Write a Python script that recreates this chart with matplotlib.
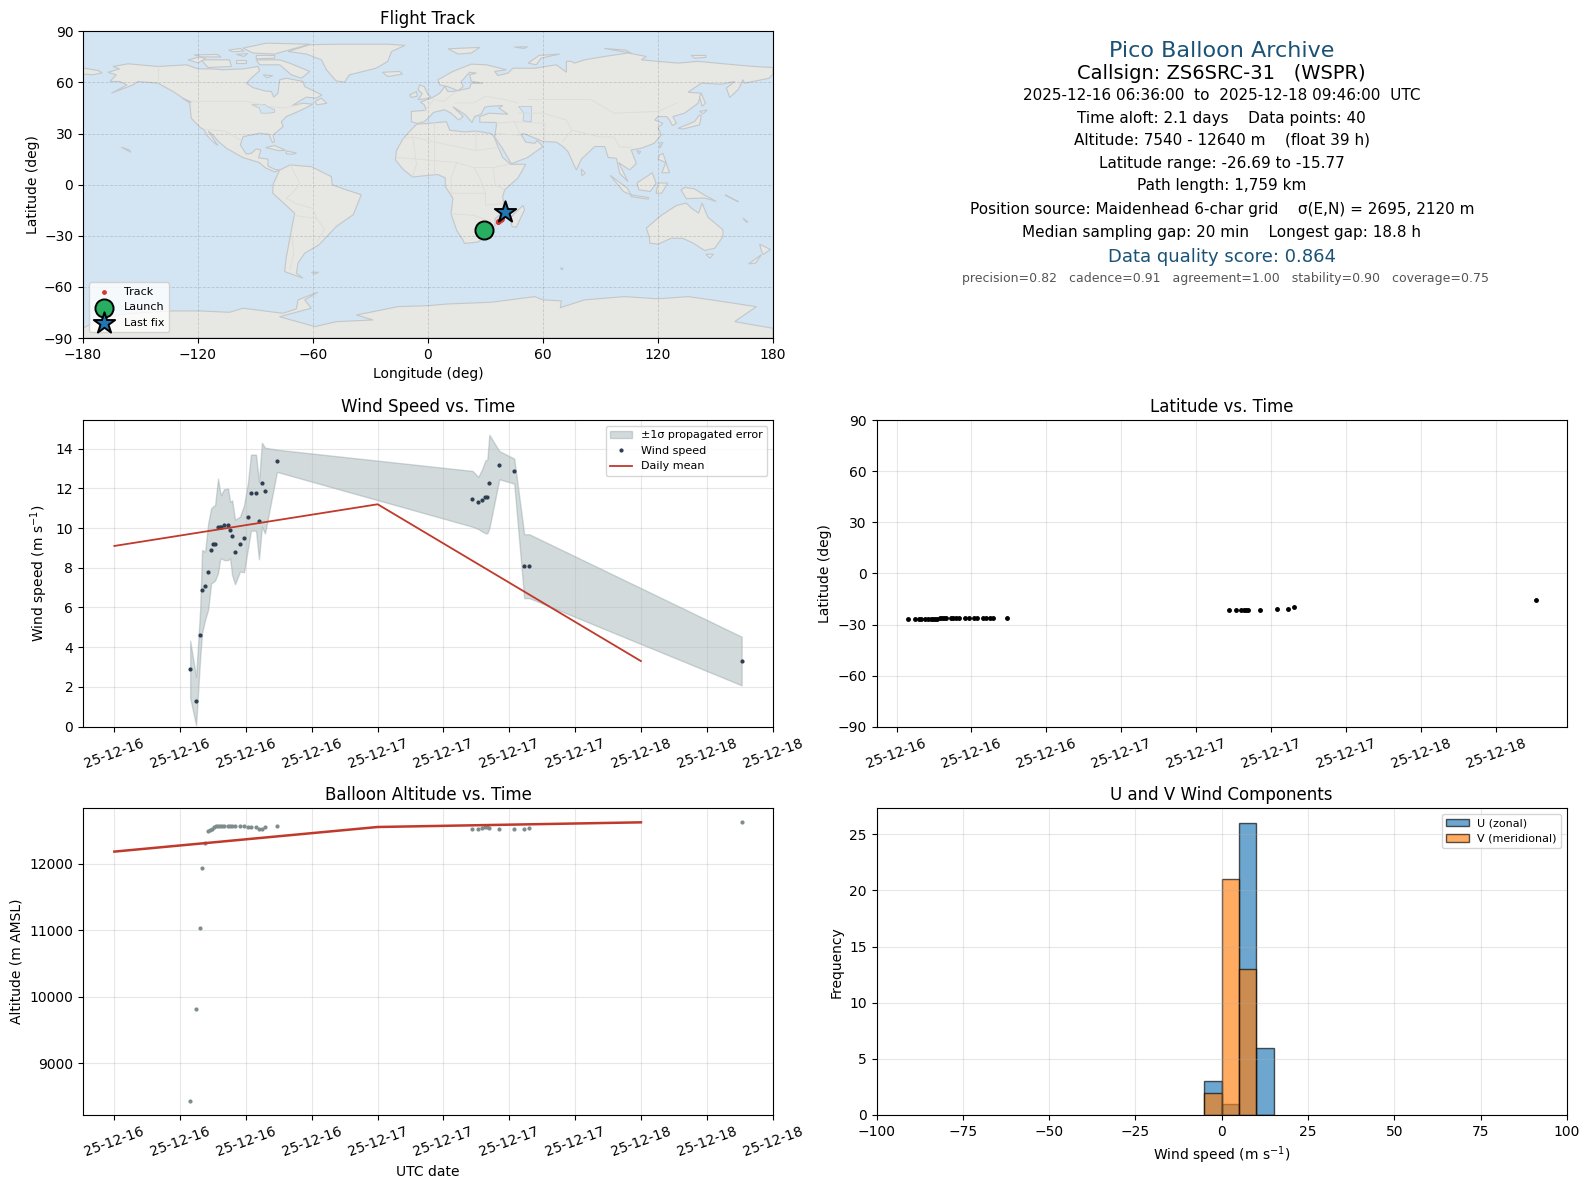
import matplotlib
matplotlib.use('Agg')
import matplotlib.pyplot as plt
import matplotlib.dates as mdates
import pandas as pd

W, H = 1589, 1189

# Wind speed samples, hours since 2025-12-16 00:00
wind_hours = [6.91, 7.45, 7.82, 8.0, 8.27, 8.55, 8.82, 9.0, 9.18, 9.45, 9.64, 9.73, 10.0, 10.36,
              10.55, 10.73, 11.0, 11.45, 11.82, 12.18, 12.45, 12.91, 13.18, 13.45, 13.73, 14.82,
              32.64, 33.18, 33.55, 33.82, 34.0, 34.18, 35.09, 36.45, 37.36, 37.82, 57.18]
wind_speed = [2.9, 1.3, 4.6, 6.87, 7.07, 7.77, 8.88, 9.18, 9.18, 10.08, 10.08, 10.08, 10.18, 10.18,
              9.88, 9.58, 8.78, 9.18, 9.48, 10.58, 11.79, 11.79, 10.38, 12.29, 11.89, 13.39,
              11.49, 11.29, 11.39, 11.59, 11.59, 12.29, 13.2, 12.9, 8.08, 8.08, 3.31]
wind_upper = [4.33, 2.51, 5.89, 8.9, 8.81, 10.23, 10.99, 11.1, 11.15, 12.49, 11.82, 11.66, 11.96, 11.99,
              11.32, 11.4, 10.43, 10.57, 11.15, 12.29, 13.7, 13.7, 12.32, 14.3, 14.05, 13.95,
              12.88, 12.58, 13.0, 13.41, 13.45, 14.7, 13.88, 13.5, 9.69, 9.69, 4.53]
wind_lower = [1.45, 0.07, 3.46, 4.72, 5.38, 5.89, 7.22, 7.27, 7.36, 7.73, 8.43, 8.48, 8.39, 8.39,
              8.48, 7.64, 7.17, 7.81, 7.78, 8.98, 9.87, 9.87, 8.43, 10.07, 9.73, 12.83,
              10.07, 9.95, 9.82, 9.74, 9.74, 9.99, 12.46, 12.24, 6.47, 6.47, 2.08]

# Daily means, at 00:00 of each day
day_hours = [0, 24, 48]
wind_daily = [9.1, 11.2, 3.3]
alt_daily = [12180, 12550, 12620]

# Position / altitude samples
fix_hours = [6.91, 7.45, 7.82, 8.0, 8.27, 8.55, 8.73, 8.91, 9.09, 9.27, 9.45, 9.64, 9.82, 10.0, 10.36,
             10.55, 10.73, 11.0, 11.45, 11.82, 12.18, 12.45, 12.91, 13.18, 13.45, 13.73, 14.82,
             32.64, 33.18, 33.55, 33.82, 34.0, 34.18, 35.09, 36.45, 37.36, 37.82, 57.18]
altitude = [8430, 9810, 11025, 11940, 12315, 12495, 12510, 12525, 12555, 12565, 12565, 12565, 12565,
            12565, 12565, 12565, 12565, 12565, 12565, 12565, 12545, 12545, 12545, 12525, 12525, 12545, 12560,
            12525, 12525, 12540, 12550, 12550, 12535, 12525, 12525, 12525, 12540, 12620]
latitude = [-26.7, -26.7, -26.7, -26.7, -26.7, -26.7, -26.7, -26.7, -26.7, -26.7, -26.3, -26.3, -26.3,
            -26.3, -26.3, -26.3, -26.3, -26.3, -26.3, -26.3, -26.3, -26.3, -26.3, -26.3, -26.3, -26.3, -25.9,
            -21.7, -21.7, -21.2, -21.2, -21.2, -21.2, -21.2, -20.6, -20.6, -20.0, -15.8]
longitude = [29.7, 29.9, 30.1, 30.2, 30.3, 30.4, 30.5, 30.6, 30.7, 30.8, 30.9, 31.0, 31.1, 31.2, 31.3,
             31.4, 31.5, 31.6, 31.7, 31.8, 31.9, 32.0, 32.1, 32.2, 32.3, 32.4, 32.8,
             36.3, 36.5, 36.7, 36.8, 36.9, 37.0, 37.3, 37.8, 38.2, 38.5, 40.5]
launch_pos = (29.2, -26.6)
last_pos = (40.3, -15.9)

# Wind component histogram
bin_left = [-5, 0, 5, 10]
u_counts = [3, 1, 26, 6]
v_counts = [2, 21, 13, 0]

# Info panel text
info_lines = ['Pico Balloon Archive',
              'Callsign: ZS6SRC-31   (WSPR)',
              '2025-12-16 06:36:00  to  2025-12-18 09:46:00  UTC',
              'Time aloft: 2.1 days    Data points: 40',
              'Altitude: 7540 - 12640 m    (float 39 h)',
              'Latitude range: -26.69 to -15.77',
              'Path length: 1,759 km',
              'Position source: Maidenhead 6-char grid    \u03c3(E,N) = 2695, 2120 m',
              'Median sampling gap: 20 min    Longest gap: 18.8 h',
              'Data quality score: 0.864',
              'precision=0.82   cadence=0.91   agreement=1.00   stability=0.90   coverage=0.75']
info_y = [51.2, 73.5, 95.0, 118.4, 140.4, 163.6, 186.0, 209.4, 232.6, 257.0, 278.5]
info_size = [16, 14, 11, 11, 11, 11, 11, 11, 11, 13, 9]
info_color = ['#1a5276', 'black', 'black', 'black', 'black', 'black', 'black', 'black', 'black', '#1a5276', '#555555']

# Coarse coastlines, lon/lat
north_america = [(-164.3,69.4),(-156.5,71),(-140.9,69.4),(-126,70.4),(-120,68),(-113,68),(-107,67.5),(-96.5,68),(-88.7,69.4),
                 (-87.8,66.9),(-91.3,63.5),(-94.8,59.6),(-91.3,57),(-85.2,55.1),(-81.7,54.7),(-80.5,51.4),(-78.3,53.7),
                 (-77.4,61.6),(-73.9,62.5),(-65.2,60.6),(-64.3,57.6),(-59.1,54.7),(-55.3,52.7),(-58.3,50.8),(-63.5,51.4),
                 (-70.8,46.5),(-65.2,47.8),(-60,47.3),(-67,43.3),(-73.9,40),(-76.5,37),(-75.6,34.1),(-80.9,29.2),(-80,25.3),
                 (-81.2,24.7),(-83,29.6),(-87.8,30.2),(-96.5,28.2),(-97.9,23.3),(-94.8,18),(-92.2,18.4),(-89.6,21),(-87.2,20.4),
                 (-88.4,15.8),(-83.5,15),(-83.5,11),(-80,9),(-77.4,8.6),(-80,7.5),(-85,10),(-88,13),(-96.5,15.9),(-105.2,21.4),
                 (-109,25),(-112.5,29.5),(-114.7,31.5),(-112,27),(-109.6,23),(-112,25),(-115,28.5),(-117,32.5),(-118.8,33.5),
                 (-123.5,39),(-124.3,47.8),(-127.8,50.8),(-133,54.7),(-140.9,59.6),(-147,60.2),(-151.3,60.6),(-153.9,58.6),
                 (-165.2,53.7),(-157,58.6),(-160.9,60.6),(-166,60.6),(-162.6,64.5),(-167,66),(-160.9,68)]
south_america = [(-77.4,8.6),(-72,11.6),(-60.9,10.6),(-50.4,4.7),(-50,0),(-44,-2.5),(-34.8,-5.9),(-39,-17.6),(-47.8,-24.5),
                 (-56.9,-35.3),(-64.3,-40.2),(-67.8,-46),(-68.7,-52),(-65.2,-54.9),(-74.8,-51),(-74,-43),(-69.6,-16.7),
                 (-81,-5),(-80.9,0)]
africa = [(-6,35.5),(0,36),(9.6,37),(11.3,32),(19,31),(25,31.5),(33,30),(34.5,28),(37,21),(39,16),(43,12),(51,12),(47,4),
          (40,-3),(39,-7),(40,-15),(35,-20),(35,-24),(33,-26),(32,-29),(26,-33.7),(19,-34.5),(18,-32),(15,-27),(12,-17),(13,-8),
          (9,-1),(9,4),(5,6),(-4,5),(-8,4.5),(-13,9),(-17,14.5),(-16.5,20),(-13,27),(-9,32)]
eurasia = [(-8.7,37),(-8.7,43),(-1,43.7),(-2,47),(-4,48.5),(2,51),(6.1,53.7),(8.7,57.6),(10.4,54.7),(13,54.7),(21.7,56.7),
           (22.6,59.6),(28.7,59.6),(22.6,60.6),(21.7,64.5),(25.2,65.5),(21.7,66),(17.4,60.6),(18.3,57.6),(15.7,55.1),(10.4,57.6),
           (6.1,58.6),(5.2,61.6),(13,66.5),(22.6,70.8),(30.4,70.4),(40.9,67.5),(34.8,66.5),(36.5,64.1),(41.7,65.5),(44.3,68.4),
           (55.7,68.4),(67,70.4),(72.2,66),(72.2,72.4),(74.8,72.4),(76.5,71.4),(81.7,73.3),(92.2,75.3),(104.3,77.3),(113.9,75.3),
           (111.3,73.3),(120,72.4),(130.4,71.4),(140.9,72.4),(160,70.4),(170.4,69.4),(180,68.8),(180,65),(178,62.5),(165.2,59.6),
           (164.3,61.6),(162,56),(157.4,51.2),(155.7,56.7),(160,60.6),(153,59),(142.6,59.6),(135.7,54.3),(142.6,53.7),(140.9,47.8),
           (133.9,42),(127.8,40),(129.6,36),(127.5,34.7),(126,38),(124.5,40),(120,40),(118.3,38),(122.6,36),(120,33.5),(121.7,29.2),
           (118,24.3),(111.3,21.4),(106,20.4),(108.7,12.5),(105.2,8.6),(99.5,13),(104.3,1.8),(100,6.7),(98.3,15.5),(94,16),
           (92.2,22.4),(87,22.4),(80,15),(77.4,8.6),(73,19.4),(70.4,22.4),(67,25),(60,25.3),(56.5,27),(50,30),(48.5,29.6),(51,25),
           (55.7,24.3),(57,26),(60,22.4),(52,16),(43.5,12.3),(39,21),(34.8,28),(35.7,35),(35.7,36.5),(27,36.7),(27,40),(32,42),
           (41.7,41.4),(37,45),(39,46.5),(32,46),(29.6,45.5),(28,42),(27,41),(24.3,40),(23,36.5),(19.5,41),(13,45.8),(18.4,40),
           (16,38),(12,42),(8.7,44),(3,42.5),(0,39),(-2,37),(-5.5,36)]
australia = [(113.9,-25.5),(121.7,-18),(129.6,-12.2),(134.8,-10.8),(137.4,-13.7),(141.2,-16.7),(143,-10.8),(146,-19),(153.9,-26.5),
             (153.9,-30.4),(149.6,-37.3),(144.3,-38.6),(138.3,-34.3),(133,-31.5),(127,-31.4),(120,-34.9),(115.7,-34.3),(115.5,-31)]
antarctica = [(-180,-90),(-180,-84.3),(-170,-78),(-155,-75.5),(-133,-74.1),(-119,-74.1),(-103.5,-74.9),(-96.5,-72.5),(-75.7,-75.5),
              (-68.7,-72.9),(-67.8,-67.6),(-57.4,-63.1),(-64.3,-67.6),(-60.9,-72.5),(-77.4,-77.5),(-59,-83.3),(-47.8,-80.4),
              (-28.7,-79.4),(-37.4,-76.5),(-15.7,-71.6),(0,-71),(10.4,-70),(33,-69),(55.7,-65.7),(60,-67.6),(69.6,-68.2),(69,-72.2),
              (81.7,-67.6),(102.6,-65.7),(120,-67),(135.7,-65.7),(147.8,-67.6),(171.3,-71.6),(160,-80.4),(180,-84.3),(180,-90)]
greenland = [(-61.7,82.2),(-46,82.5),(-21,82.5),(-12,81.8),(-19,78.2),(-21,72.4),(-27,68.4),(-41,64.5),(-43.5,60.2),(-48,61),
             (-53,67.5),(-55.6,73.3),(-63.5,76.7),(-73,78.2)]
islands = [
    [(-118.3,73.3),(-103.5,73.3),(-102.6,69.4),(-114.8,68.8)],
    [(-125.2,73.3),(-119,75),(-116,74),(-120,71.5)],
    [(-89.6,73.3),(-77.4,73.3),(-72.2,71.4),(-61.7,66.5),(-66,62.5),(-71.3,64.5),(-77.4,70.4),(-87.8,70.4)],
    [(-86,64.5),(-81,64),(-84,62.8)],
    [(-96.5,80.2),(-84.3,83.1),(-61.7,82.5),(-72.2,79.2),(-80,76.7),(-91.3,77.3)],
    [(-89.6,75.9),(-80,75.9),(-80,74.3),(-89.6,73.9)],
    [(-122,76.2),(-110,76.5),(-108,75),(-118,75)],
    [(-104,79),(-98,80),(-96,78.5),(-102,78)],
    [(-100,76.5),(-94,77),(-96,75.3)],
    [(-100,73.5),(-95,73.5),(-95,71.5),(-100,71.5)],
    [(-23.8,66),(-14.8,66.5),(-13.4,64.9),(-21,63.5)],
    [(-59,48.8),(-55.6,50.8),(-52.7,47.8),(-58,46.9)],
    [(-84.7,21.8),(-80,23),(-74.3,20.2),(-78,20)],
    [(-74,19.8),(-68.6,18.6),(-71,17.8),(-74,18.2)],
    [(-160,22),(-155,19),(-156,20.5)],
    [(-128,50.7),(-123.5,48.5),(-125,49)],
    [(-180,68.5),(-172,67),(-170,65.7),(-175,64.5),(-180,65)],
    [(-60.9,-51.4),(-57,-51.4),(-59,-52.4)],
    [(-9.6,52.7),(-6,54.7),(-5.6,52),(-8.7,51.2)],
    [(-4.4,58.6),(-2,57.6),(0,53),(1.5,51.5),(-0.9,50.5),(-5.2,50),(-3,53.5),(-5.2,55.7)],
    [(10.4,79.8),(27,80.6),(22.6,77.3),(15.7,76.7)],
    [(45,80.8),(52,81),(50,80)],
    [(52.2,71.4),(58,75.9),(68.7,76.7),(59,74.3),(56.5,70.4)],
    [(92,80),(103,79),(106,77.3),(99,78.6)],
    [(137.4,75.9),(145,75.9),(145,74.7),(139,74.3)],
    [(142.6,53.7),(144.7,47.8),(143,46),(141.7,51.8)],
    [(141.7,43),(145.7,43.9),(143.5,41.6)],
    [(130.4,33.1),(139,37),(141.7,41),(142.6,40.6),(141.7,35.1),(133,32.7)],
    [(120.9,21.4),(122.6,24.7),(121,24.7)],
    [(109,20),(111,19.5),(110,18)],
    [(120.9,17.5),(122.6,18.4),(126,7),(122,7),(124,13),(120,15)],
    [(80,9.2),(82,6.7),(80.3,5.3)],
    [(95,5.5),(104,-2),(106,-6),(102,-4)],
    [(106,-6),(115,-7.5),(115,-8.5),(106,-7)],
    [(109,1),(117,7),(119,1),(116,-4),(110,-3)],
    [(120,1),(125,1),(122,-5),(119,-5)],
    [(134,-1.6),(139,-2.4),(144,-5.9),(150.4,-9.8),(144.3,-7.8),(134.8,-8.2),(132,-3)],
    [(155,-6),(162,-10),(160,-9)],
    [(164.3,-19.6),(166,-22),(167,-22)],
    [(145,-40.8),(149,-40.8),(147,-43.1)],
    [(173,-34.9),(178.6,-38),(175,-41),(174,-39)],
    [(174,-41),(167.3,-46.5),(171,-46)],
    [(49.6,-12.2),(50.4,-14.7),(46,-25.1),(43.8,-24.5),(43.1,-19.6),(45.2,-16.7)],
    [(69,-49),(70.5,-49),(70,-50)],
]
lakes = [
    [(-92,47),(-85,47),(-84,46),(-80,44),(-80,42.5),(-83,42),(-87,42),(-88,45)],
    [(47.3,45.9),(54,46),(53.9,37),(49.6,37.5),(50,42)],
]
borders = [
    [(-123,49),(-95,49),(-83,46),(-75,45),(-67,47)],
    [(-141,69.7),(-141,60)],
    [(-117,32.5),(-106,31.5),(-97.5,26)],
    [(-70,-18),(-58,-20),(-54,-26),(-58,-34)],
    [(-72,12),(-67,1),(-70,-4),(-74,-8),(-69,-11),(-60,-14),(-58,-20)],
    [(-71,-30),(-70,-40),(-72,-50)],
    [(-13,27),(-8,28),(12,23),(25,20),(25,31)],
    [(25,20),(37,22)],
    [(-16,16),(15,13),(24,10),(34,10),(42,12)],
    [(12,-5),(30,-5),(30,-12),(40,-11)],
    [(12,-17),(24,-18),(33,-22),(32,-26)],
    [(15,13),(12,4),(12,-5)],
    [(24,10),(27,4),(30,-5)],
    [(34,10),(35,0),(40,-3)],
    [(-8,28),(-6,12),(-8,5)],
    [(3,37),(3,6)],
    [(-2,43),(3,50)],
    [(3,50),(8,49),(14,54)],
    [(14,48),(24,48),(30,52),(40,50),(47,48)],
    [(47,42),(60,42),(72,38),(75,32),(70,25)],
    [(52,50),(85,50),(97,42),(120,43),(130,48)],
    [(75,32),(90,28),(97,28),(100,22),(106,22)],
    [(35,36),(45,37),(48,30)],
    [(45,37),(61,36),(61,25)],
    [(36,30),(48,29)],
]
land_polys = [north_america, south_america, africa, eurasia, australia, antarctica, greenland] + islands

OCEAN = '#d3e5f2'
LAND = '#e7e7e3'
COAST = '#c3c7ca'


def make_axes(left, top, right, bottom):
    return fig.add_axes([left / W, 1 - bottom / H, (right - left) / W, (bottom - top) / H])


def to_times(hours):
    return pd.Timestamp('2025-12-16') + pd.to_timedelta(hours, unit='h')


def date_axis(ax):
    ax.xaxis.set_major_locator(mdates.HourLocator(byhour=[0, 6, 12, 18]))
    ax.xaxis.set_major_formatter(mdates.DateFormatter('%y-%m-%d'))
    ax.tick_params(axis='x', rotation=20)
    ax.grid(alpha=0.3)


fig = plt.figure(figsize=(W / 100, H / 100), dpi=100)

ax_map = make_axes(83, 31.4, 773, 338)
ax_info = make_axes(876.5, 31.4, 1567, 338)
ax_wind = make_axes(83, 420.3, 773, 726.6)
ax_lat = make_axes(876.5, 420.3, 1567, 726.6)
ax_alt = make_axes(83, 808.4, 773, 1115)
ax_hist = make_axes(876.5, 808.4, 1567, 1115)

# Flight track map
ax_map.set_facecolor(OCEAN)
for poly in land_polys:
    lon, lat = zip(*poly)
    ax_map.fill(lon, lat, facecolor=LAND, edgecolor=COAST, linewidth=0.8)
for poly in lakes:
    lon, lat = zip(*poly)
    ax_map.fill(lon, lat, facecolor=OCEAN, edgecolor=COAST, linewidth=0.6)
for line in borders:
    lon, lat = zip(*line)
    ax_map.plot(lon, lat, color='#dcdcd8', linewidth=0.6)
ax_map.scatter(longitude, latitude, s=6, color='#d6392b', label='Track', zorder=4)
ax_map.scatter(*launch_pos, s=170, color='#27ae60', edgecolor='black', linewidth=1.4, label='Launch', zorder=5)
ax_map.scatter(*last_pos, s=260, marker='*', color='#1f77b4', edgecolor='black', linewidth=1.4, label='Last fix', zorder=6)
ax_map.set_xlim(-180, 180)
ax_map.set_ylim(-90, 90)
ax_map.set_xticks(range(-180, 181, 60))
ax_map.set_yticks(range(-90, 91, 30))
ax_map.grid(alpha=0.18, linestyle='--', linewidth=0.6, color='#333333')
ax_map.set_title('Flight Track', fontsize=12, pad=5.3)
ax_map.set_xlabel('Longitude (deg)')
ax_map.set_ylabel('Latitude (deg)', labelpad=3)
ax_map.legend(loc='lower left', fontsize=8)

# Summary text
ax_info.axis('off')
for text, y, size, color in zip(info_lines, info_y, info_size, info_color):
    x = 0.506 if size == 9 else 0.5
    ax_info.text(x, 1 - (y - 31.4) / 306.6, text, ha='center', va='center', fontsize=size,
                 color=color, transform=ax_info.transAxes)

# Wind speed
wind_t = to_times(wind_hours)
ax_wind.fill_between(wind_t, wind_lower, wind_upper, color='#768d92', alpha=0.32, label='\u00b11\u03c3 propagated error')
ax_wind.plot(wind_t, wind_speed, '.', color='#2c3e50', markersize=4, label='Wind speed')
ax_wind.plot(to_times(day_hours), wind_daily, color='#c0392b', linewidth=1.3, label='Daily mean')
ax_wind.set_ylim(0, 15.43)
ax_wind.set_title('Wind Speed vs. Time', fontsize=12)
ax_wind.set_ylabel('Wind speed (m s$^{-1}$)')
ax_wind.legend(loc='upper right', fontsize=8)
date_axis(ax_wind)

# Latitude
fix_t = to_times(fix_hours)
ax_lat.plot(fix_t, latitude, '.', color='black', markersize=5)
ax_lat.set_ylim(-90, 90)
ax_lat.set_yticks(range(-90, 91, 30))
ax_lat.set_title('Latitude vs. Time', fontsize=12)
ax_lat.set_ylabel('Latitude (deg)')
date_axis(ax_lat)

# Altitude
ax_alt.plot(fix_t, altitude, '.', color='#7f8c8d', markersize=4)
ax_alt.plot(to_times(day_hours), alt_daily, color='#c0392b', linewidth=1.8)
ax_alt.set_title('Balloon Altitude vs. Time', fontsize=12)
ax_alt.set_xlabel('UTC date')
ax_alt.set_ylabel('Altitude (m AMSL)')
date_axis(ax_alt)

# Wind component histogram
ax_hist.bar(bin_left, u_counts, width=5, align='edge', color='tab:blue', alpha=0.65, edgecolor='black', label='U (zonal)')
ax_hist.bar(bin_left, v_counts, width=5, align='edge', color='tab:orange', alpha=0.65, edgecolor='black', label='V (meridional)')
ax_hist.set_xlim(-100, 100)
ax_hist.set_title('U and V Wind Components', fontsize=12)
ax_hist.set_xlabel('Wind speed (m s$^{-1}$)')
ax_hist.set_ylabel('Frequency')
ax_hist.legend(loc='upper right', fontsize=8)
ax_hist.grid(alpha=0.3)

fig.savefig('out.png', dpi=100)
